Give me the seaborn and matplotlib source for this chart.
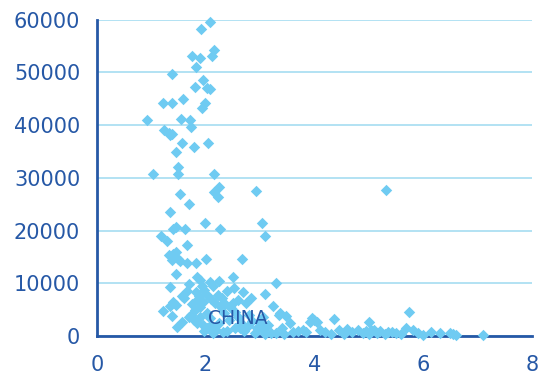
import matplotlib
matplotlib.use("Agg")
import matplotlib.pyplot as plt
import seaborn as sns
import pandas as pd

# values
x_upper = [0.93, 1.04, 1.22, 1.38, 1.39, 1.59, 1.24, 1.32, 1.39, 1.35, 1.54, 1.45, 1.56,
           1.49, 1.49, 1.72, 1.73, 1.79, 1.75, 1.89, 1.83, 1.81, 1.95, 1.92, 2.08, 2.16,
           2.12, 2.03, 2.08, 1.94, 1.99, 2.05, 2.16, 2.24]
y_upper = [40900, 30800, 44200, 44200, 49700, 45000, 39100, 38500, 38300, 38100, 41200, 34900, 36600,
           32000, 30800, 41000, 39700, 35900, 53200, 52700, 51000, 47200, 48600, 58300, 59500, 54300,
           53100, 47000, 46800, 43300, 44200, 36700, 30700, 28300]

x_mid = [1.53, 1.69, 1.34, 1.18, 1.30, 1.41, 1.46, 1.62, 1.65, 1.32, 1.40, 1.45, 1.38, 1.49,
         1.53, 1.65, 1.83, 2.01, 1.99, 2.27, 2.16, 2.22, 2.92, 3.03, 3.10, 2.67, 5.32]
y_mid = [26900, 25000, 23600, 19000, 18100, 20200, 20600, 20300, 17300, 15400, 15600, 15900, 14400, 14600,
         14200, 13900, 13800, 14600, 21400, 20300, 27300, 26300, 27500, 21400, 19000, 14600, 27700]

x_low = [1.46, 1.35, 1.85, 1.89, 2.08, 2.24, 2.51, 1.82, 1.94, 1.97, 2.14, 2.22, 2.52, 2.69,
         3.09, 3.29, 1.56, 1.60, 1.40, 1.46, 1.35, 1.21, 1.38, 1.56, 1.48, 1.74, 1.80, 1.89,
         1.95, 2.02, 2.08, 2.03, 2.14, 2.26, 2.34, 2.44, 2.54, 2.75, 2.84, 2.78, 2.90, 3.00,
         3.06, 3.24, 3.36, 2.32, 2.63, 3.35, 3.47, 3.55, 5.74, 5.01, 4.36, 3.95, 4.00, 4.05,
         3.92, 3.79, 4.45, 4.61, 4.81, 5.10, 5.20, 5.42, 5.69, 5.82, 6.15, 6.32, 6.49, 6.61,
         7.11,
         3.40, 3.30, 3.45, 3.60, 3.70, 3.85, 4.10, 4.20, 4.30, 4.55, 4.70, 4.90, 5.00, 5.15,
         5.30, 5.50, 5.60, 5.90, 6.00, 5.05, 4.95, 5.35, 6.55,
         1.70, 1.78, 1.85, 1.90, 1.95, 1.98, 2.10, 2.20, 2.25, 2.40, 2.45, 2.50, 2.55, 2.60,
         2.65, 2.70, 2.80, 2.85, 2.95, 3.05, 3.15, 3.20, 3.10, 1.88, 2.00, 2.10, 2.30, 2.40,
         2.60, 1.75, 1.85, 2.18, 2.35, 1.65, 1.70]
y_low = [11700, 9200, 11100, 10600, 10200, 10500, 11100, 8300, 9500, 8700, 9400, 7800, 9000, 8400,
         8000, 10100, 7500, 7100, 6500, 5900, 5700, 4700, 3700, 2700, 1600, 4000, 4900, 5400,
         6500, 4300, 3400, 1500, 500, 5600, 4300, 3000, 1500, 6200, 7200, 1800, 500, 2400,
         1100, 5600, 4300, 800, 1500, 4000, 3800, 2400, 4500, 2600, 3200, 3400, 3000, 2700,
         2600, 1100, 1100, 1300, 1100, 1100, 1000, 800, 1500, 1100, 700, 500, 500, 200,
         200,
         1500, 600, 300, 800, 1000, 800, 1200, 700, 400, 300, 800, 600, 300, 500,
         300, 600, 300, 500, 200, 1200, 900, 700, 300,
         3500, 3000, 2500, 3500, 2000, 1000, 2000, 1200, 2500, 1000, 5500, 6200, 4500, 3500,
         2500, 1000, 4000, 2800, 1500, 3500, 2000, 600, 300, 7600, 8000, 7000, 7200, 8500,
         6800, 6000, 6800, 6300, 6000, 8500, 9800]

df = pd.DataFrame({"x": x_upper + x_mid + x_low, "y": y_upper + y_mid + y_low})

dark_blue = "#2658a6"
marker_blue = "#6fcbf2"
grid_blue = "#acdff2"

sns.set_style("white")
fig = plt.figure(figsize=(5.5, 3.74), dpi=100)
ax = fig.add_axes([0.176, 0.102, 0.791, 0.845])

sns.scatterplot(data=df, x="x", y="y", marker="D", color=marker_blue, s=34,
                linewidth=0, ax=ax, zorder=3, clip_on=False)

ax.set_xlim(0, 8)
ax.set_ylim(0, 60000)
ax.set_xticks([0, 2, 4, 6, 8])
ax.set_yticks(range(0, 60001, 10000))
ax.set_xlabel("")
ax.set_ylabel("")

ax.yaxis.grid(True, color=grid_blue, linewidth=1.3)
ax.xaxis.grid(False)
ax.set_axisbelow(True)

for side in ["top", "right"]:
    ax.spines[side].set_visible(False)
for side in ["left", "bottom"]:
    ax.spines[side].set_color(dark_blue)
    ax.spines[side].set_linewidth(2)
    ax.spines[side].set_zorder(2)

ax.tick_params(axis="both", colors=dark_blue, labelsize=15, length=4, width=1.2,
               direction="out")
ax.tick_params(axis="x", pad=10)
ax.tick_params(axis="y", pad=8)

ax.text(2.04, 3300, "CHINA", color=dark_blue, fontsize=13.5, va="center", ha="left", zorder=4)

fig.savefig("out.png", dpi=100)
